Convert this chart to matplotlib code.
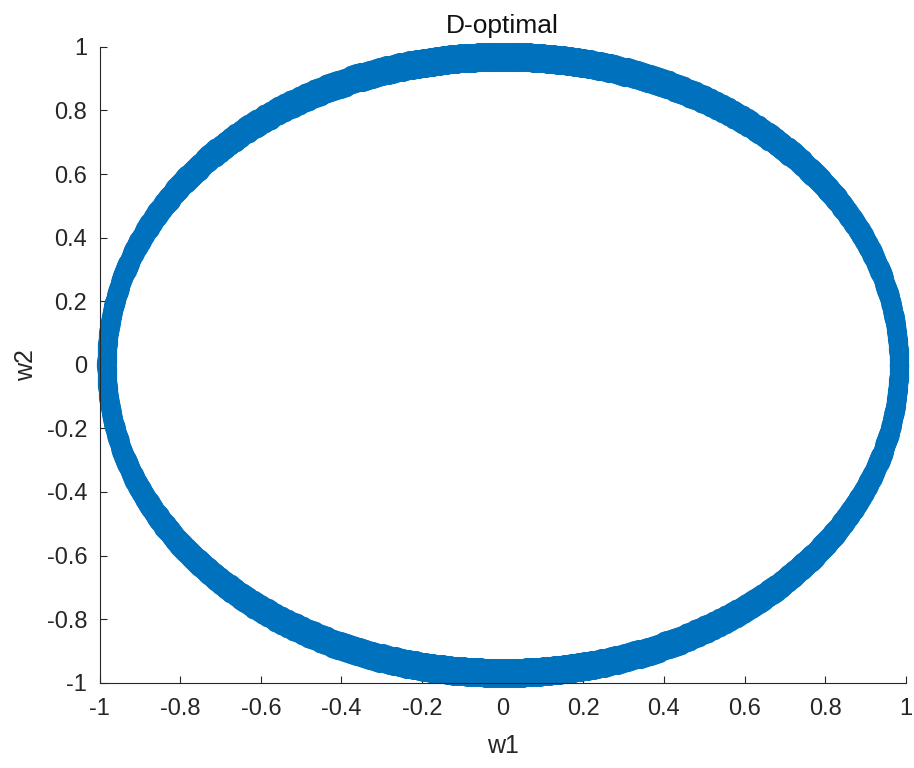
import numpy as np
import matplotlib
matplotlib.use("Agg")
import matplotlib.pyplot as plt
from matplotlib.path import Path

plt.rcParams['font.family'] = ['Liberation Sans', 'DejaVu Sans']
plt.rcParams['axes.unicode_minus'] = False

# weights sampled around the unit circle (ring slightly inside |w| = 1)
n_points = 720
radius_w1 = 0.983
radius_w2 = 0.969
angles = np.linspace(0, 2 * np.pi, n_points)
w1 = radius_w1 * np.cos(angles)
w2 = radius_w2 * np.sin(angles)

ticks = [-1, -0.8, -0.6, -0.4, -0.2, 0, 0.2, 0.4, 0.6, 0.8, 1]
tick_labels = ['-1', '-0.8', '-0.6', '-0.4', '-0.2', '0', '0.2', '0.4', '0.6', '0.8', '1']

# slightly tall marker so the band looks like the original
t = np.linspace(0, 2 * np.pi, 40)
marker = Path(np.column_stack([0.66 * np.cos(t), np.sin(t)]))

fig = plt.figure(figsize=(9.14, 7.68), dpi=100)
ax = fig.add_axes([0.109, 0.111, 0.882, 0.828])

ax.plot(w1, w2, linestyle='none', marker=marker, markersize=21,
        color='#0072BD', markeredgewidth=0, clip_on=False)

ax.set_xlim(-1, 1)
ax.set_ylim(-1, 1)
ax.set_xticks(ticks)
ax.set_xticklabels(tick_labels)
ax.set_yticks(ticks)
ax.set_yticklabels(tick_labels)
ax.tick_params(direction='in', length=5, labelsize=17, colors='#262626')
ax.tick_params(axis='x', pad=11)
ax.tick_params(axis='y', pad=9)
for s in ['top', 'right']:
    ax.spines[s].set_visible(False)
for s in ['left', 'bottom']:
    ax.spines[s].set_color('#262626')

ax.set_title('D-optimal', fontsize=19, color='#111111', pad=10)
ax.set_xlabel('w1', fontsize=18, color='#262626', labelpad=10)
ax.set_ylabel('w2', fontsize=18, color='#262626', labelpad=6)

fig.savefig('out.png', dpi=100)
